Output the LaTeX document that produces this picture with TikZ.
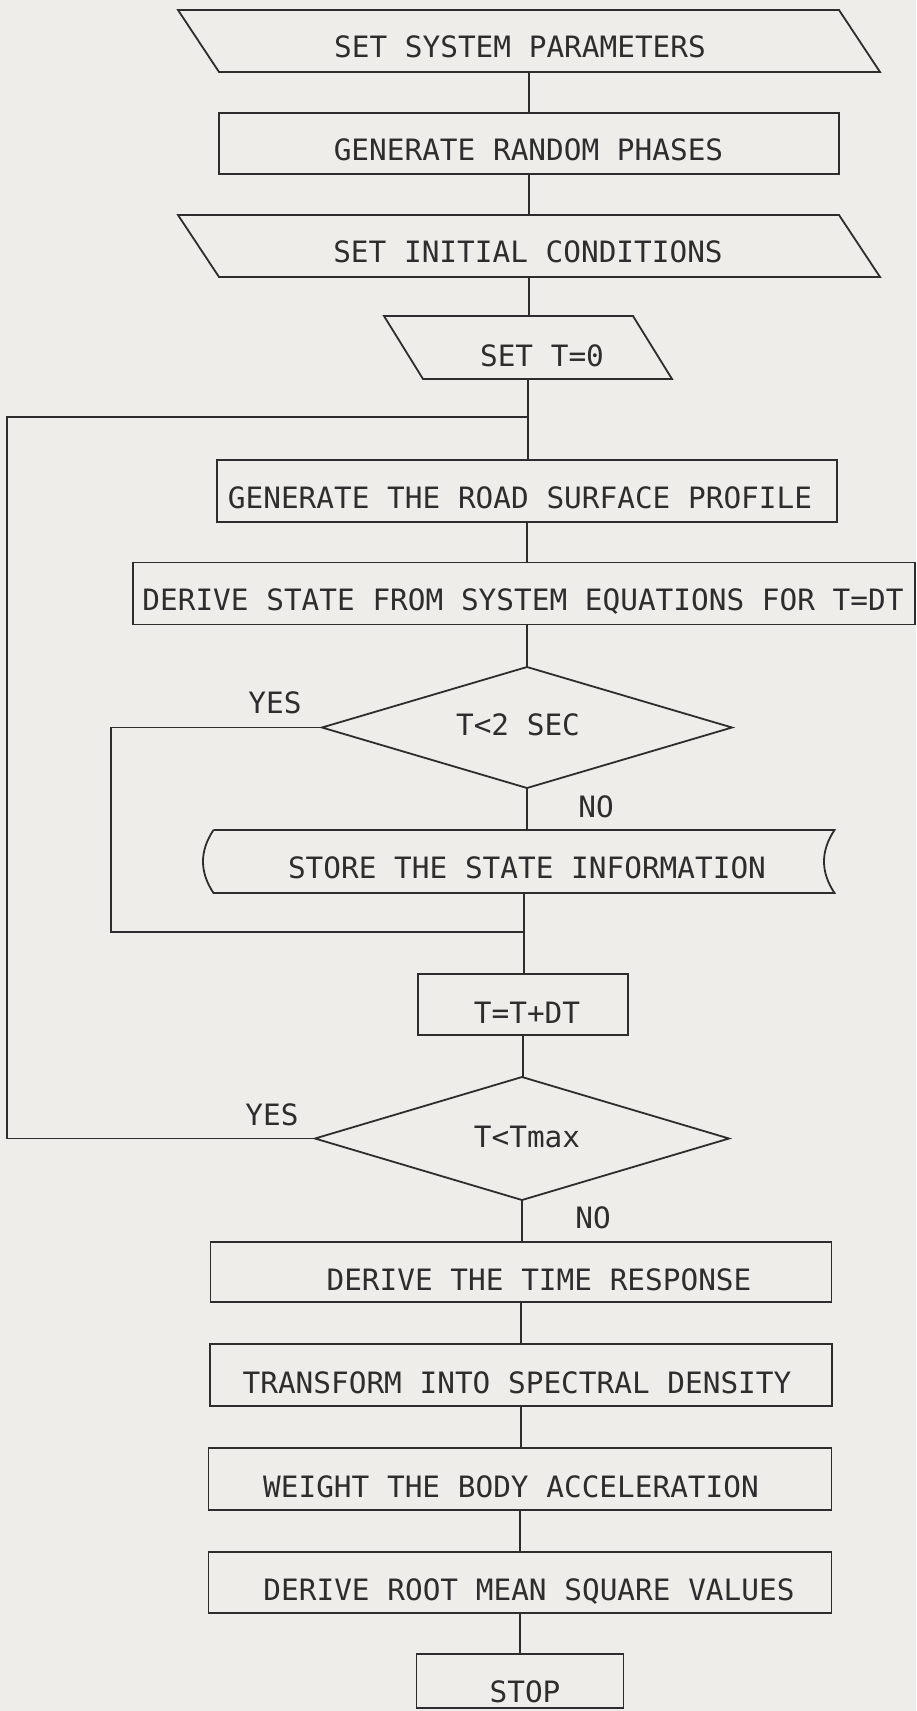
\documentclass[tikz,border=0pt]{standalone}
\usepackage{fontspec}
\newfontfamily\plotfont{DejaVu Sans Mono}
\usetikzlibrary{shapes.geometric,calc}
\definecolor{paper}{RGB}{239,237,233}
\definecolor{ink}{RGB}{45,45,45}
\begin{document}
\begin{tikzpicture}[x=1pt,y=-1pt,
  line/.style={draw=ink,line width=1.8pt},
  frame/.style={rectangle,inner sep=0pt,outer sep=0pt},
  boxshape/.style={rectangle,draw=ink,line width=1.8pt,inner sep=0pt,outer sep=0pt},
  decision/.style={diamond,draw=ink,line width=1.8pt,inner sep=0pt,outer sep=0pt},
  txt/.style={font=\plotfont\fontsize{29.4}{30}\selectfont,text=ink,inner sep=0pt,anchor=base}]

\fill[paper] (0,0) rectangle (916,1711);
\useasboundingbox (0,0) rectangle (916,1711);

% ---- shapes ----
\node[frame,minimum width=661pt,minimum height=62pt] (setpar) at (529,41) {};
\draw[line] ($(setpar.north west)+(-20.5,0)$) -- ($(setpar.north east)+(-20.5,0)$)
  -- ($(setpar.south east)+(20.5,0)$) -- ($(setpar.south west)+(20.5,0)$) -- cycle;

\node[boxshape,minimum width=620pt,minimum height=61pt] (phases) at (529,143.5) {};

\node[frame,minimum width=661pt,minimum height=62pt] (initc) at (529,246) {};
\draw[line] ($(initc.north west)+(-20.5,0)$) -- ($(initc.north east)+(-20.5,0)$)
  -- ($(initc.south east)+(20.5,0)$) -- ($(initc.south west)+(20.5,0)$) -- cycle;

\node[frame,minimum width=249pt,minimum height=63pt] (tzero) at (528,347.5) {};
\draw[line] ($(tzero.north west)+(-19.5,0)$) -- ($(tzero.north east)+(-19.5,0)$)
  -- ($(tzero.south east)+(19.5,0)$) -- ($(tzero.south west)+(19.5,0)$) -- cycle;

\node[boxshape,minimum width=620pt,minimum height=62pt] (road) at (527,491) {};
\node[boxshape,minimum width=782pt,minimum height=62pt] (derive) at (524,593.5) {};
\node[decision,minimum width=410pt,minimum height=121pt] (dec1) at (527,727.5) {};

\node[frame,minimum width=621pt,minimum height=63pt] (store) at (524,861.5) {};
\draw[line] (store.north west) -- (store.north east)
  .. controls ($(store.north east)+(-14,21)$) and ($(store.south east)+(-14,-21)$) .. (store.south east)
  -- (store.south west)
  .. controls ($(store.south west)+(-14,-21)$) and ($(store.north west)+(-14,21)$) .. (store.north west);

\node[boxshape,minimum width=210pt,minimum height=61pt] (tinc) at (523,1004.5) {};
\node[decision,minimum width=414pt,minimum height=123pt] (dec2) at (522,1138.5) {};
\node[boxshape,minimum width=621pt,minimum height=60pt] (resp) at (521,1272) {};
\node[boxshape,minimum width=622pt,minimum height=62pt] (trans) at (521,1375) {};
\node[boxshape,minimum width=623pt,minimum height=62pt] (weight) at (520,1479) {};
\node[boxshape,minimum width=623pt,minimum height=61pt] (rms) at (520,1582.5) {};
\node[boxshape,minimum width=207pt,minimum height=54pt] (stop) at (520,1681) {};

% ---- texts ----
\node[txt] (tsetpar) at (520,57) {SET SYSTEM PARAMETERS};
\node[txt] (tphases) at (528.5,160) {GENERATE RANDOM PHASES};
\node[txt] (tinitc) at (528,262) {SET INITIAL CONDITIONS};
\node[txt] (ttzero) at (542,366) {SET T=0};
\node[txt] (troad) at (520,508) {GENERATE THE ROAD SURFACE PROFILE};
\node[txt] (tderive) at (523,610) {DERIVE STATE FROM SYSTEM EQUATIONS FOR T=DT};
\node[txt] (tdec1) at (518,735) {T<2 SEC};
\node[txt] (yes1) at (275,713) {YES};
\node[txt] (no1) at (596,817) {NO};
\node[txt] (tstore) at (527,878) {STORE THE STATE INFORMATION};
\node[txt] (ttinc) at (527,1023) {T=T+DT};
\node[txt] (tdec2) at (527,1147) {T<Tmax};
\node[txt] (yes2) at (272,1125) {YES};
\node[txt] (no2) at (593,1228) {NO};
\node[txt] (tresp) at (539,1290) {DERIVE THE TIME RESPONSE};
\node[txt] (ttrans) at (517,1393) {TRANSFORM INTO SPECTRAL DENSITY};
\node[txt] (tweight) at (511,1497) {WEIGHT THE BODY ACCELERATION};
\node[txt] (trms) at (529,1600) {DERIVE ROOT MEAN SQUARE VALUES};
\node[txt] (tstop) at (525,1702) {STOP};

% ---- connectors ----
\draw[line] (setpar.south) -- (setpar.south |- phases.north);
\draw[line] (phases.south) -- (phases.south |- initc.north);
\draw[line] (initc.south) -- (initc.south |- tzero.north);
\draw[line] (tzero.south) -- (tzero.south |- road.north);
\draw[line] (road.south) -- (road.south |- derive.north);
\draw[line] (derive.south) -- (derive.south -| dec1.north) -- (dec1.north);
\draw[line] (dec1.south) -- (dec1.south |- store.north);
\draw[line] (store.south) -- (store.south |- tinc.north);
\draw[line] (tinc.south) -- (tinc.south |- dec2.north);
\draw[line] (dec2.south) -- (dec2.south |- resp.north);
\draw[line] (resp.south) -- (resp.south |- trans.north);
\draw[line] (trans.south) -- (trans.south |- weight.north);
\draw[line] (weight.south) -- (weight.south |- rms.north);
\draw[line] (rms.south) -- (rms.south |- stop.north);

% inner loop: T<2 SEC, YES
\coordinate (innerturn) at (111,932);
\draw[line] (dec1.west) -| (innerturn) -- (innerturn -| tinc.north);

% outer loop: T<Tmax, YES
\coordinate (outerturn) at (7,417);
\draw[line] (dec2.west) -| (outerturn) -- (outerturn -| tzero.south);

\end{tikzpicture}
\end{document}
